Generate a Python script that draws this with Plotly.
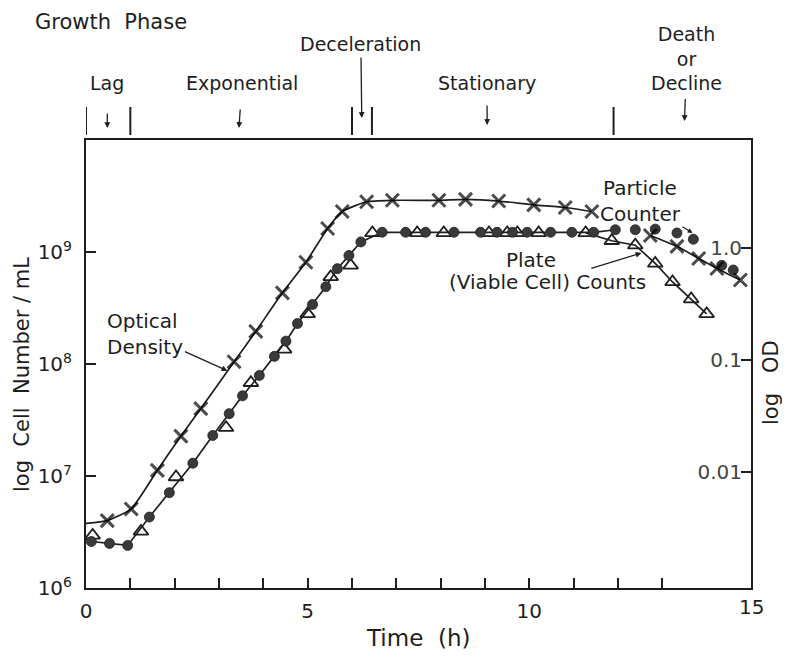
import math
import plotly.graph_objects as go

# ---------------- data ----------------
# Optical density (log OD, right axis); first point is the curve start (no marker)
od_time = [0.0, 0.48, 1.02, 1.61, 2.14, 2.59, 3.34, 3.83, 4.43, 4.96, 5.45, 5.78, 6.33, 6.91,
           7.96, 8.56, 9.31, 10.1, 10.81, 11.41, None, 12.73, 13.33, 13.82, 14.23, 14.76]
od_value = [0.0035, 0.0037, 0.0047, 0.0104, 0.021, 0.037, 0.097, 0.181, 0.40, 0.75, 1.50,
            2.13, 2.60, 2.68, 2.68, 2.73, 2.64, 2.44, 2.31, 2.13, None, 1.30, 1.04, 0.81,
            0.66, 0.52]

# Particle counter (cells/mL)
pc_time = [0.12, 0.53, 0.94, 1.43, 1.88, 2.41, 2.86, 3.23, 3.53, 3.91, 4.25, 4.51, 4.77,
           5.11, 5.41, 5.67, 5.93, 6.20, 6.68, 7.21, 7.66, 8.30, 8.90, 9.27, 9.62, 9.95,
           10.48, 10.96, 11.45, 11.94, 12.39, 12.84, 13.33, 13.70, 14.34, 14.60]
pc_value = [2.6e6, 2.5e6, 2.4e6, 4.3e6, 7.1e6, 1.3e7, 2.3e7, 3.6e7, 5.2e7, 7.9e7, 1.17e8,
            1.6e8, 2.3e8, 3.4e8, 4.9e8, 7.1e8, 9.3e8, 1.23e9, 1.5e9, 1.5e9, 1.5e9, 1.5e9,
            1.5e9, 1.5e9, 1.5e9, 1.5e9, 1.5e9, 1.5e9, 1.5e9, 1.58e9, 1.58e9, 1.6e9, 1.48e9,
            1.3e9, 7.6e8, 6.9e8]
pc_line_points = 30  # points joined by the drawn curve

# Plate (viable cell) counts (cells/mL)
plate_time = [0.15, 1.24, 2.03, 3.16, 3.72, 4.47, 5.00, 5.52, 5.97, 6.46, 7.47, 8.07, 9.09,
              9.50, 9.73, 10.21, 11.27, 11.86, 12.39, 12.84, 13.23, 13.65, 14.00]
plate_value = [2.95e6, 3.2e6, 9.8e6, 2.7e7, 6.8e7, 1.35e8, 2.8e8, 6.0e8, 7.6e8, 1.48e9,
               1.48e9, 1.48e9, 1.48e9, 1.48e9, 1.48e9, 1.48e9, 1.48e9, 1.26e9, 1.15e9,
               7.9e8, 5.4e8, 3.8e8, 2.8e8]
plate_line_start = 16  # decline curve drawn from this point

# Growth phases
phase_bounds = [0, 1, 6, 6.45, 11.9]
phase_names = ["Lag", "Exponential", "Deceleration", "Stationary", "Death<br>or<br>Decline"]
phase_label_t = [0.48, 3.52, 6.2, 9.04, 13.55]
phase_arrow_t = [0.48, 3.45, 6.22, 9.05, 13.5]

x_ticks = list(range(0, 16))
x_ticktext = ["0", "", "", "", "", "5", "", "", "", "", "10", "", "", "", "", ""]
x_end_label = "15"   # label of the last tick, at the right corner
left_ticks = [1e6, 1e7, 1e8, 1e9]
left_ticktext = ["10<sup>6</sup>", "10<sup>7</sup>", "10<sup>8</sup>", "10<sup>9</sup>"]
right_ticks = [0.01, 0.1, 1.0]
right_ticktext = ["0.01", "0.1", "1.0"]
od_per_count = 1.08e9  # cells/mL corresponding to OD 1.0 on the figure

# ---------------- style ----------------
INK = "#1e1e1e"
FONT = "DejaVu Sans"
OFF = 8                      # page body margin offset
W, H = 790 - OFF, 660 - OFF
PX0, PX1, PY0, PY1 = 86, 751, 140, 588   # plot area in window pixels
ML, MT = PX0 - OFF, PY0 - OFF
MR, MB = W - (PX1 - OFF), H - (PY1 - OFF)
PW, PH = PX1 - PX0, PY1 - PY0
PX_PER_H = PW / 15.0
PX_PER_DEC = PH / 4.0


def py(pix):
    return (PY1 - pix) / PH


def px(pix):
    return (pix - PX0) / PW


fig = go.Figure()

fig.add_trace(go.Scatter(
    x=od_time, y=od_value, yaxis="y2", mode="lines+markers",
    line=dict(color=INK, width=1.7, shape="spline", smoothing=0.5),
    marker=dict(symbol="x-thin", size=[0] + [13] * (len(od_time) - 1),
                line=dict(color="#000000", width=3)),
    connectgaps=False, showlegend=False))

fig.add_trace(go.Scatter(
    x=pc_time[:pc_line_points], y=pc_value[:pc_line_points], mode="lines",
    line=dict(color=INK, width=1.7), showlegend=False))

fig.add_trace(go.Scatter(
    x=plate_time[plate_line_start:], y=plate_value[plate_line_start:], mode="lines",
    line=dict(color=INK, width=1.7), showlegend=False))

fig.add_trace(go.Scatter(
    x=plate_time, y=plate_value, mode="markers",
    marker=dict(symbol="triangle-up-open", size=13, color=INK, line=dict(color=INK, width=1.8)),
    showlegend=False))

fig.add_trace(go.Scatter(
    x=pc_time, y=pc_value, mode="markers",
    marker=dict(symbol="circle", size=10, color="#3a3a3a", line=dict(color=INK, width=0.8)),
    showlegend=False))

# phase bars
shapes = []
for b in phase_bounds:
    shapes.append(dict(type="line", xref="x", yref="paper", x0=b, x1=b,
                       y0=py(135), y1=py(107), line=dict(color=INK, width=2)))

ARROW = dict(arrowhead=2, arrowsize=0.9, arrowwidth=1.3, arrowcolor=INK)

# phase labels, each with its arrow (label pixel row, arrow head row, arrow tail gap)
annotations = []
label_pix = [83, 83, 44, 83, 58]
head_pix = [128, 128, 118, 125, 121]
tail_gap = [18, 14, 1, 10, 4]
for name, lt, at, lp, hp, gap in zip(phase_names, phase_label_t, phase_arrow_t, label_pix,
                                      head_pix, tail_gap):
    annotations.append(dict(x=at, y=py(hp), xref="x", yref="paper", text=name,
                            showarrow=True, ax=(lt - at) * PX_PER_H, ay=lp - hp,
                            startstandoff=gap, align="center",
                            font=dict(size=19, color=INK, family=FONT), **ARROW))

annotations.append(dict(x=px(33), y=py(22), xref="paper", yref="paper",
                        text="Growth  Phase", showarrow=False, xanchor="left", yanchor="middle",
                        font=dict(size=21, color=INK, family=FONT)))


def log_px(v):
    return (math.log10(v) - 6) * PX_PER_DEC


# series labels with arrows pointing at the curves
od_head = (3.19, 8.7e7)
annotations.append(dict(x=od_head[0], y=math.log10(od_head[1]), xref="x", yref="y",
                        text="Optical<br>Density", showarrow=True, align="left",
                        ax=-82, ay=-37, font=dict(size=20, color=INK, family=FONT), **ARROW))
pc_head = (13.68, 1.48e9)
annotations.append(dict(x=pc_head[0], y=math.log10(pc_head[1]), xref="x", yref="y",
                        text="Particle<br>Counter", showarrow=True, align="center",
                        ax=-52, ay=-32, font=dict(size=20, color=INK, family=FONT),
                        arrowhead=2, arrowsize=0.8, arrowwidth=1.2, arrowcolor=INK))
annotations.append(dict(x=10.03, y=8.93, xref="x", yref="y", text="Plate",
                        showarrow=False, xanchor="center", yanchor="middle",
                        font=dict(size=20, color=INK, family=FONT)))
plate_head = (12.53, 9.8e8)
annotations.append(dict(x=plate_head[0], y=math.log10(plate_head[1]), xref="x", yref="y",
                        text="(Viable Cell) Counts", showarrow=True, align="center",
                        ax=-94, ay=29, font=dict(size=20, color=INK, family=FONT), **ARROW))

# last x tick label (right corner)
annotations.append(dict(x=x_ticks[-1], y=py(607), xref="x", yref="paper", text=x_end_label,
                        showarrow=False, xanchor="center", yanchor="middle",
                        font=dict(size=20, color=INK, family=FONT)))

# axis titles
annotations.append(dict(x=px(22), y=py(375), xref="paper", yref="paper",
                        text="log  Cell  Number / mL", textangle=-90, showarrow=False,
                        xanchor="center", yanchor="middle",
                        font=dict(size=21, color=INK, family=FONT)))
annotations.append(dict(x=px(771), y=py(383), xref="paper", yref="paper",
                        text="log   OD", textangle=-90, showarrow=False,
                        xanchor="center", yanchor="middle",
                        font=dict(size=21, color=INK, family=FONT)))
annotations.append(dict(x=px(418), y=py(638), xref="paper", yref="paper",
                        text="Time  (h)", showarrow=False, xanchor="center", yanchor="middle",
                        font=dict(size=23, color=INK, family=FONT)))

fig.update_layout(
    width=W, height=H, autosize=False,
    margin=dict(l=ML, r=MR, t=MT, b=MB, pad=0),
    paper_bgcolor="white", plot_bgcolor="white",
    font=dict(family=FONT, color=INK, size=20),
    shapes=shapes, annotations=annotations,
    xaxis=dict(range=[0, 15], tickvals=x_ticks, ticktext=x_ticktext, ticks="inside",
               ticklen=10, tickwidth=1.6, tickcolor=INK, showline=True, linewidth=2,
               linecolor=INK, mirror=True, showgrid=False, zeroline=False,
               tickfont=dict(size=20), ticklabelstandoff=4),
    yaxis=dict(type="log", range=[6, 10], tickvals=left_ticks, ticktext=left_ticktext,
               ticks="inside", ticklen=10, tickwidth=1.6, tickcolor=INK, showline=True,
               linewidth=2, linecolor=INK, mirror=True, showgrid=False, zeroline=False,
               tickfont=dict(size=20), ticklabelstandoff=8),
    yaxis2=dict(type="log", overlaying="y", side="right",
                range=[math.log10(1e6 / od_per_count), math.log10(1e10 / od_per_count)],
                tickvals=right_ticks, ticktext=right_ticktext, ticks="inside",
                ticklabelposition="inside", ticklen=10, tickwidth=1.6, tickcolor=INK,
                showline=True, linewidth=2, linecolor=INK, showgrid=False, zeroline=False,
                tickfont=dict(size=20)),
)

fig.write_html("out.html")
